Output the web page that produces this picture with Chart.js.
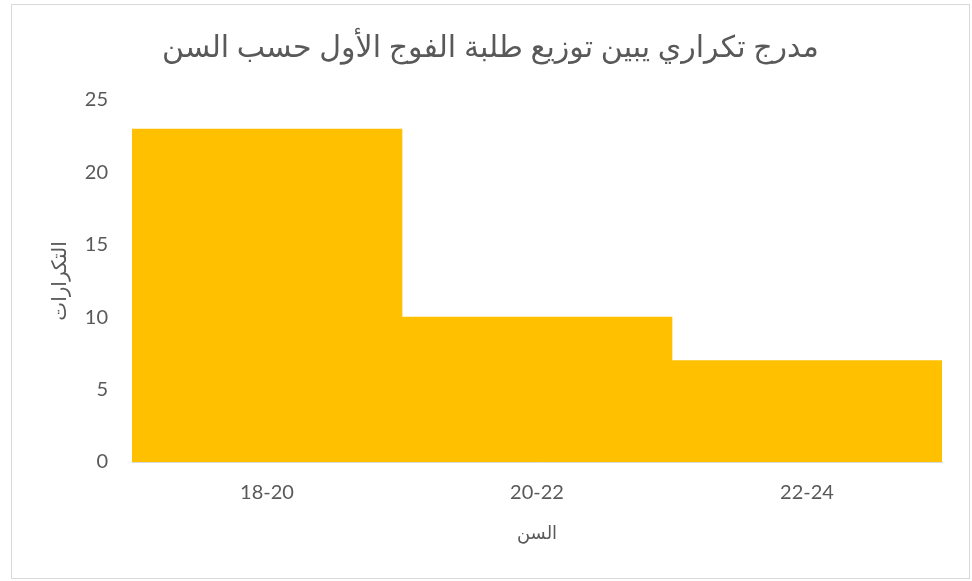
<!DOCTYPE html>
<html>
<head>
<meta charset="utf-8">
<script src="https://cdn.jsdelivr.net/npm/chart.js@4/dist/chart.umd.min.js"></script>
<style>
  html, body { margin: 0; padding: 0; background: #ffffff; }
  #frame { position: absolute; left: 11px; top: 4px; width: 957px; height: 573px; border: 1px solid #d9d9d9; background: #fff; }
  #c { display: block; }
</style>
</head>
<body>
<div id="frame"><canvas id="c" width="957" height="573"></canvas></div>
<script>
const chartTitle = "مدرج تكراري يبين توزيع طلبة الفوج الأول حسب السن";
const xAxisTitle = "السن";
const yAxisTitle = "التكرارات";
const categories = ["18-20", "20-22", "22-24"];
const frequencies = [23, 10, 7];
const yTickMax = 25;
const yTickStep = 5;

const textColor = "#595959";
const fontFamily = "Lato, 'DejaVu Sans', sans-serif";

new Chart(document.getElementById("c"), {
  type: "bar",
  data: {
    labels: categories,
    datasets: [{
      data: frequencies,
      backgroundColor: "#FFC000",
      borderWidth: 0,
      categoryPercentage: 1.0,
      barPercentage: 1.0
    }]
  },
  options: {
    responsive: false,
    animation: false,
    devicePixelRatio: 1,
    layout: { padding: 0 },
    plugins: {
      legend: { display: false },
      tooltip: { enabled: false },
      title: {
        display: true,
        text: chartTitle,
        color: textColor,
        font: { family: fontFamily, size: 30, weight: "normal" },
        padding: { top: 24, bottom: 35 }
      }
    },
    scales: {
      x: {
        grid: { display: false, drawTicks: false },
        border: { display: true, color: "#d9d9d9", width: 1 },
        ticks: { color: textColor, font: { family: fontFamily, size: 20 }, padding: 19 },
        title: {
          display: true,
          text: xAxisTitle,
          color: textColor,
          font: { family: fontFamily, size: 18 },
          padding: { top: 0, bottom: 34 }
        },
        afterFit: (s) => { s.height = 116; }
      },
      y: {
        min: 0,
        max: yTickMax,
        grid: { display: false, drawTicks: false },
        border: { display: false },
        ticks: { stepSize: yTickStep, color: textColor, font: { family: fontFamily, size: 20 }, padding: 24 },
        title: {
          display: true,
          text: yAxisTitle,
          color: textColor,
          font: { family: fontFamily, size: 20 },
          padding: { top: 36, bottom: 0 }
        },
        afterFit: (s) => { s.width = 120; }
      },
      yRightSpacer: {
        position: "right",
        display: true,
        grid: { display: false, drawTicks: false },
        border: { display: false },
        ticks: { display: false },
        afterFit: (s) => { s.width = 27; }
      }
    }
  }
});
</script>
</body>
</html>
